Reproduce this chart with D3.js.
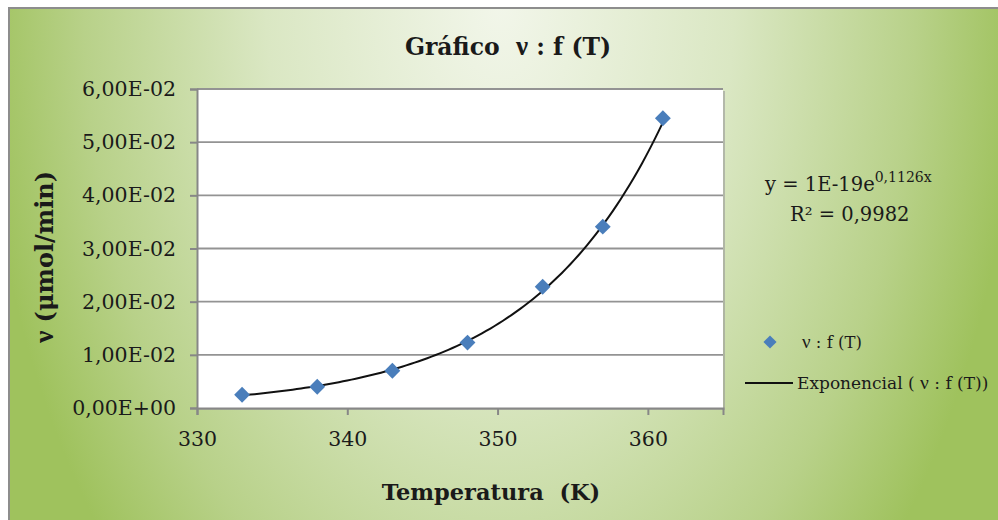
<!DOCTYPE html>
<html>
<head>
<meta charset="utf-8">
<script src="https://cdn.jsdelivr.net/npm/d3@7/dist/d3.min.js"></script>
<style>
  html, body { margin: 0; padding: 0; background: #ffffff; }
  svg { display: block; }
  text { font-family: "DejaVu Serif", "Liberation Serif", serif; fill: #1a1a1a; }
</style>
</head>
<body>
<svg id="chart" width="998" height="520"></svg>
<script>
// ---- data ----
const temperatures = [333, 338, 343, 348, 353, 357, 361];
const rates = [0.0025, 0.0040, 0.0070, 0.0123, 0.0228, 0.0341, 0.0545];
const xTickValues = [330, 340, 350, 360];
const yTickValues = [0, 0.01, 0.02, 0.03, 0.04, 0.05, 0.06];
const titleText = "Gráfico  ν : f (T)";
const xTitle = "Temperatura  (K)";
const yTitle = "ν (μmol/min)";
const seriesName = "ν : f (T)";
const trendName = "Exponencial ( ν : f (T))";
const equationMain = "y = 1E-19e";
const equationExp = "0,1126x";
const rSquared = "R² = 0,9982";

const W = 998, H = 520;
const svg = d3.select("#chart");
const defs = svg.append("defs");

const grad = defs.append("radialGradient")
  .attr("id", "bg").attr("gradientUnits", "userSpaceOnUse")
  .attr("cx", 500).attr("cy", 0).attr("r", 520)
  .attr("gradientTransform", "translate(500,0) scale(1,1.6) translate(-500,0)");
grad.append("stop").attr("offset", 0).attr("stop-color", "#f2f6ea");
grad.append("stop").attr("offset", 0.45).attr("stop-color", "#dae7c3");
grad.append("stop").attr("offset", 0.8).attr("stop-color", "#b8d189");
grad.append("stop").attr("offset", 1).attr("stop-color", "#9fc25d");

// outer frame
svg.append("rect").attr("x", 8).attr("y", 7).attr("width", W - 8).attr("height", H - 7).attr("fill", "#8d8d8d");
svg.append("rect").attr("x", 10).attr("y", 9).attr("width", W - 10).attr("height", H - 9).attr("fill", "url(#bg)");

// scales
const x = d3.scaleLinear().domain([330, 365]).range([197, 723]);
const y = d3.scaleLinear().domain([0, 0.06]).range([408, 89]);

// plot area with shadow
svg.append("rect").attr("x", x(330) + 2).attr("y", y(0.06) + 2)
  .attr("width", x(365) - x(330)).attr("height", y(0) - y(0.06))
  .attr("fill", "#9a9a9a").attr("opacity", 0.6);
svg.append("rect").attr("x", x(330)).attr("y", y(0.06))
  .attr("width", x(365) - x(330)).attr("height", y(0) - y(0.06))
  .attr("fill", "#ffffff");

// gridlines
svg.append("g").selectAll("line").data(yTickValues.filter(d => d > 0)).join("line")
  .attr("x1", x(330)).attr("x2", x(365))
  .attr("y1", d => y(d)).attr("y2", d => y(d))
  .attr("stroke", "#939393").attr("stroke-width", 1.8);

const fmtY = d => {
  const s = d.toExponential(2);
  const [m, e] = s.split("e");
  const ev = parseInt(e, 10);
  const sign = ev < 0 ? "-" : "+";
  const ea = String(Math.abs(ev)).padStart(2, "0");
  return m.replace(".", ",") + "E" + sign + ea;
};

// y axis
const yAxis = svg.append("g").attr("transform", `translate(${x(330)},0)`)
  .call(d3.axisLeft(y).tickValues(yTickValues).tickFormat(fmtY).tickSize(7).tickPadding(14));
yAxis.select(".domain").attr("stroke", "#878787").attr("stroke-width", 2);
yAxis.selectAll(".tick line").attr("stroke", "#878787").attr("stroke-width", 2);
yAxis.selectAll(".tick text").attr("font-family", "DejaVu Serif").attr("font-size", 20.5).attr("fill", "#1a1a1a");

// x axis
const xAxis = svg.append("g").attr("transform", `translate(0,${y(0)})`)
  .call(d3.axisBottom(x).tickValues(xTickValues).tickFormat(d3.format("d")).tickSize(7).tickPadding(16));
xAxis.select(".domain").attr("stroke", "#878787").attr("stroke-width", 2);
xAxis.selectAll(".tick line").attr("stroke", "#878787").attr("stroke-width", 2);
xAxis.selectAll(".tick text").attr("font-family", "DejaVu Serif").attr("font-size", 20.5).attr("fill", "#1a1a1a");

// exponential trendline fitted (least squares on ln v)
const n = temperatures.length;
const lnv = rates.map(Math.log);
const mx = d3.mean(temperatures), my = d3.mean(lnv);
let sxy = 0, sxx = 0;
for (let i = 0; i < n; i++) { sxy += (temperatures[i] - mx) * (lnv[i] - my); sxx += (temperatures[i] - mx) ** 2; }
const b = sxy / sxx, a = my - b * mx;
const tMin = d3.min(temperatures), tMax = d3.max(temperatures);
const curve = d3.range(0, 101).map(k => {
  const t = tMin + (tMax - tMin) * k / 100;
  return [t, Math.exp(a + b * t)];
});
svg.append("path").datum(curve)
  .attr("d", d3.line().x(d => x(d[0])).y(d => y(d[1])))
  .attr("fill", "none").attr("stroke", "#111").attr("stroke-width", 2);

// markers
const diamond = d3.symbol().type(d3.symbolDiamond2).size(160);
svg.append("g").selectAll("path").data(temperatures.map((t, i) => [t, rates[i]])).join("path")
  .attr("d", diamond)
  .attr("transform", d => `translate(${x(d[0])},${y(d[1])})`)
  .attr("fill", "#4a7ebb");

// helper: write text, rendering the Greek nu with an upright serif face
function richText(sel, str) {
  str.split(/(ν)/).forEach(part => {
    if (!part) return;
    const t = sel.append("tspan").text(part);
    if (part === "ν") t.attr("font-family", "Liberation Serif").attr("font-size", "1.15em");
  });
  return sel;
}

// titles
richText(svg.append("text").attr("x", 508).attr("y", 55).attr("text-anchor", "middle")
  .attr("font-size", 23.5).attr("font-weight", "bold").attr("xml:space", "preserve"), titleText);
svg.append("text").attr("x", 491).attr("y", 500).attr("text-anchor", "middle")
  .attr("font-size", 22.5).attr("font-weight", "bold").attr("xml:space", "preserve").text(xTitle);
richText(svg.append("text").attr("transform", "translate(53,257) rotate(-90)").attr("text-anchor", "middle")
  .attr("font-size", 24).attr("font-weight", "bold"), yTitle);

// equation
const eq = svg.append("text").attr("x", 765).attr("y", 191).attr("font-size", 19.5);
eq.append("tspan").text(equationMain);
eq.append("tspan").attr("font-size", 14).attr("dy", -9).text(equationExp);
svg.append("text").attr("x", 790).attr("y", 221).attr("font-size", 19.5).text(rSquared);

// legend
svg.append("path").attr("d", d3.symbol().type(d3.symbolDiamond2).size(110))
  .attr("transform", "translate(770,342)").attr("fill", "#4a7ebb");
richText(svg.append("text").attr("x", 802).attr("y", 348).attr("font-size", 16.5).attr("xml:space", "preserve"), seriesName);
svg.append("line").attr("x1", 745).attr("x2", 793).attr("y1", 383).attr("y2", 383)
  .attr("stroke", "#111").attr("stroke-width", 2);
richText(svg.append("text").attr("x", 797).attr("y", 389).attr("font-size", 17).attr("xml:space", "preserve"), trendName);
</script>
</body>
</html>
